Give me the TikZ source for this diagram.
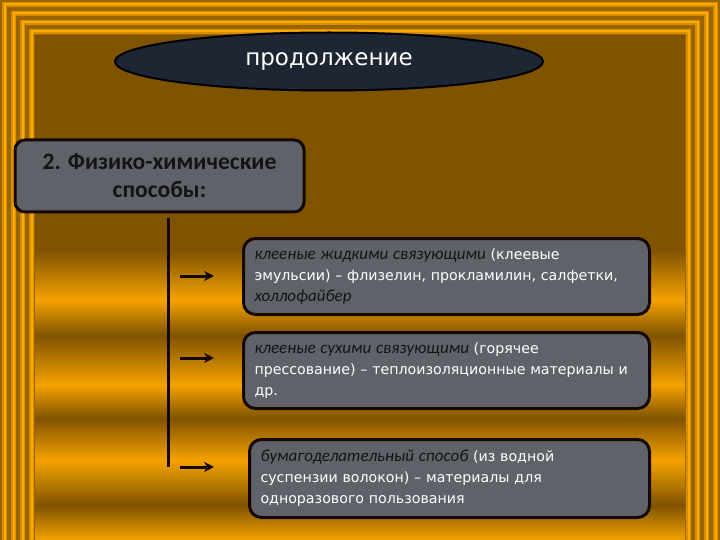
\documentclass[tikz,border=0pt]{standalone}
\usepackage{fontspec}
\newfontfamily\dvs{DejaVu Sans}
\newfontfamily\carl{Carlito}
\usetikzlibrary{shapes.geometric,arrows.meta}
\definecolor{bgbrown}{HTML}{7F5300}
\definecolor{bggold}{HTML}{F5A200}
\definecolor{stdark}{HTML}{9A6400}
\definecolor{stmid}{HTML}{D98E00}
\definecolor{stbright}{HTML}{FFAA00}
\definecolor{boxgray}{HTML}{5F6369}
\definecolor{ellfill}{HTML}{1E2634}
\definecolor{edgec}{HTML}{140800}
\definecolor{itc}{HTML}{141414}
\newcommand{\itpart}[1]{{\carl\itshape\fontsize{17}{21}\selectfont\color{itc}#1}}
\begin{document}
\begin{tikzpicture}[x=1pt,y=-1pt,
  infobox/.style={draw=edgec, line width=3pt, fill=boxgray, rounded corners=12pt,
    minimum height=76pt, anchor=north west, inner xsep=11pt, text width=384pt,
    align=left, font=\dvs\fontsize{14.2}{21}\selectfont, text=white},
  headbox/.style={draw=edgec, line width=3pt, fill=boxgray, rounded corners=10pt,
    minimum width=289pt, minimum height=72pt, align=center,
    font=\carl\bfseries\fontsize{23.6}{28}\selectfont, text=itc},
  ovalbox/.style={ellipse, draw=black, line width=2pt, fill=ellfill,
    minimum width=428pt, minimum height=58pt, inner sep=0pt,
    font=\dvs\fontsize{23}{28}\selectfont, text=white},
  stem/.style={draw=edgec, line width=3pt},
  arr/.style={draw=edgec, line width=3pt, -{Stealth[length=10pt,width=10pt]}}]
\useasboundingbox (0,0) rectangle (720,540);
\clip (0,0) rectangle (720,540);
% background
\fill[bgbrown] (0,0) rectangle (720,540);
\foreach \d in {4.5,13.5,22.5,31.5}{
  \draw[stdark, line width=9pt] (\d,\d) rectangle (720-\d,600);
  \draw[stmid, line width=5pt] (\d,\d) rectangle (720-\d,600);
  \draw[stbright, line width=2pt] (\d,\d) rectangle (720-\d,600);
}
\fill[bgbrown] (35,35) rectangle (685,540);
\foreach \ya/\yb/\ca/\cb in {250/300/bgbrown/bggold,300/335/bggold/bgbrown,335/385/bgbrown/bggold,
  385/418/bggold/bgbrown,418/460/bgbrown/bggold,460/505/bggold/bgbrown,505/540/bgbrown/bggold}{
  \shade[top color=\ca, bottom color=\cb] (35,\ya) rectangle (685,\yb+0.5);
}
% title oval
\node[ovalbox] (title) at (329,61.5) {продолжение};
% header box
\node[headbox] (head) at (159.5,176) {2. Физико-химические\\способы:};
% stem and arrows
\coordinate (st) at (168,218);
\coordinate (sb) at (168,467);
\draw[stem] (st) -- (sb);
\coordinate (a1s) at (180,276); \coordinate (a1e) at (214,276);
\coordinate (a2s) at (180,358); \coordinate (a2e) at (214,358);
\coordinate (a3s) at (180,467); \coordinate (a3e) at (214,467);
\draw[arr] (a1s) -- (a1e);
\draw[arr] (a2s) -- (a2e);
\draw[arr] (a3s) -- (a3e);
% boxes
\node[infobox] (b1) at (242,237) {\mbox{\itpart{клееные жидкими связующими} (клеевые}\\
  \mbox{эмульсии) – флизелин, прокламилин, салфетки,}\\
  \mbox{\itpart{холлофайбер}}};
\node[infobox] (b2) at (242,331) {\mbox{\itpart{клееные сухими связующими} (горячее}\\
  \mbox{прессование) – теплоизоляционные материалы и}\\
  \mbox{др.}};
\node[infobox, text width=378pt, minimum height=78pt] (b3) at (248,438) {\mbox{\itpart{бумагоделательный способ} (из водной}\\
  \mbox{суспензии волокон) – материалы для}\\
  \mbox{одноразового пользования}};
\end{tikzpicture}
\end{document}
